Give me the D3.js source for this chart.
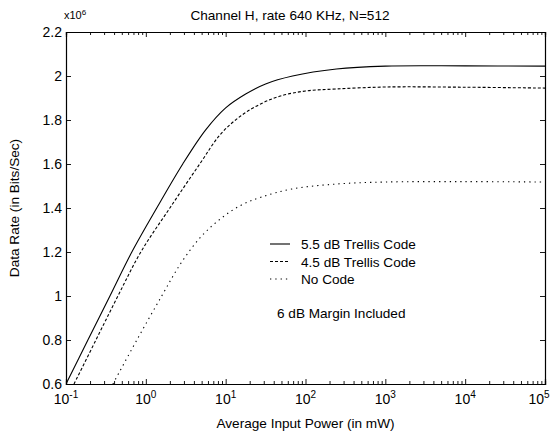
<!DOCTYPE html>
<html>
<head>
<meta charset="utf-8">
<script src="https://cdn.jsdelivr.net/npm/d3@7"></script>
<style>
  body { margin: 0; background: #fff; }
  svg { font-family: "Liberation Sans", Arial, Helvetica, sans-serif; }
</style>
</head>
<body>
<script>
// data (power in mW, rate in units of 10^6 bits/sec)
const trellis55Power = [0.1, 0.188, 0.355, 0.668, 1.37, 2.9, 5.62, 10, 17.8, 31.6, 68.8, 244, 1000, 10000, 100000];
const trellis55Rate  = [0.6, 0.8, 1.0, 1.2, 1.4, 1.6, 1.755, 1.855, 1.918, 1.964, 2.0, 2.032, 2.045, 2.046, 2.045];

const trellis45Power = [0.126, 0.237, 0.447, 0.866, 2.0, 4.73, 8.66, 15.4, 27.4, 48.7, 100, 244, 1000, 10000, 100000];
const trellis45Rate  = [0.6, 0.8, 1.0, 1.2, 1.4, 1.6, 1.736, 1.818, 1.873, 1.909, 1.932, 1.941, 1.95, 1.949, 1.945];

const noCodePower = [0.387, 0.772, 1.58, 2.82, 5.01, 8.91, 15.8, 28.2, 66.8, 244, 1000, 10000, 100000];
const noCodeRate  = [0.6, 0.8, 1.0, 1.155, 1.273, 1.355, 1.414, 1.45, 1.486, 1.509, 1.518, 1.52, 1.518];

const seriesNames = ["5.5 dB Trellis Code", "4.5 dB Trellis Code", "No Code"];
const yTicks = [0.6, 0.8, 1, 1.2, 1.4, 1.6, 1.8, 2, 2.2];
const xExponents = [-1, 0, 1, 2, 3, 4, 5];

const margins = { left: 66, right: 5, top: 32, bottom: 52 };
const width = 550, height = 436;
const plotW = width - margins.left - margins.right;
const plotH = height - margins.top - margins.bottom;

const x = d3.scaleLog().domain([0.1, 1e5]).range([0, plotW]);
const y = d3.scaleLinear().domain([0.6, 2.2]).range([plotH, 0]);

const svg = d3.select("body").append("svg")
    .attr("width", width)
    .attr("height", height);

const g = svg.append("g")
    .attr("transform", "translate(" + margins.left + "," + margins.top + ")");

// clip so curves stay in the box
svg.append("defs").append("clipPath").attr("id", "clip")
    .append("rect").attr("width", plotW).attr("height", plotH);

// ticks: majors at decades, minors at 2..9
const minorTicks = [];
xExponents.slice(0, -1).forEach(e => {
    for (let k = 2; k <= 9; k++) minorTicks.push(k * Math.pow(10, e));
});
const majorTicks = xExponents.map(e => Math.pow(10, e));

function xAxisGen(axisFn, size, vals) {
    return axisFn(x).tickValues(vals).tickSize(size).tickFormat("");
}

// bottom axis (inward ticks)
g.append("g").attr("class", "ax").attr("transform", "translate(0," + plotH + ")")
    .call(xAxisGen(d3.axisTop, 5, majorTicks));
g.append("g").attr("class", "ax").attr("transform", "translate(0," + plotH + ")")
    .call(xAxisGen(d3.axisTop, 3, minorTicks));
// top axis
g.append("g").attr("class", "ax")
    .call(xAxisGen(d3.axisBottom, 5, majorTicks));
g.append("g").attr("class", "ax")
    .call(xAxisGen(d3.axisBottom, 3, minorTicks));

// left axis
g.append("g").attr("class", "ax")
    .call(d3.axisRight(y).tickValues(yTicks).tickSize(5).tickFormat(""));
// right axis
g.append("g").attr("class", "ax").attr("transform", "translate(" + plotW + ",0)")
    .call(d3.axisLeft(y).tickValues(yTicks).tickSize(5).tickFormat(""));

g.selectAll(".ax path").attr("stroke", "#000").attr("stroke-width", 1.2);
g.selectAll(".ax line").attr("stroke", "#000").attr("stroke-width", 0.9);

// y tick labels
g.selectAll(".ylab").data(yTicks).enter().append("text")
    .attr("x", -4)
    .attr("y", d => y(d) + 5)
    .attr("text-anchor", "end")
    .style("font-size", "14px")
    .text(d => d3.format("")(+d.toFixed(1)));

// x tick labels 10^e (last one pulled in so it fits the page)
const xl = g.selectAll(".xlab").data(xExponents).enter().append("text")
    .attr("x", (d, i) => x(Math.pow(10, d)) - (i === xExponents.length - 1 ? 6 : 0))
    .attr("y", plotH + 20)
    .attr("text-anchor", "middle")
    .style("font-size", "14px");
xl.append("tspan").text("10");
xl.append("tspan").attr("dy", -6).style("font-size", "10px").text(d => d);

// multiplier
const mult = svg.append("text").attr("x", 64).attr("y", 19).style("font-size", "11px");
mult.append("tspan").text("x10");
mult.append("tspan").attr("dy", -4).style("font-size", "8px").text("6");

// title and axis labels
svg.append("text").attr("x", 290).attr("y", 20).attr("text-anchor", "middle")
    .style("font-size", "13.6px").text("Channel H, rate 640 KHz, N=512");
svg.append("text").attr("x", margins.left + plotW / 2).attr("y", 428).attr("text-anchor", "middle")
    .style("font-size", "13.6px").text("Average Input Power (in mW)");
svg.append("text").attr("transform", "translate(19," + (margins.top + plotH / 2) + ") rotate(-90)")
    .attr("text-anchor", "middle")
    .style("font-size", "13.6px").text("Data Rate (in Bits/Sec)");

// curves
const line = d3.line()
    .x(d => x(d[0]))
    .y(d => y(d[1]))
    .curve(d3.curveCatmullRom.alpha(0.5));

const series = [
    { pts: d3.zip(trellis55Power, trellis55Rate), dash: null },
    { pts: d3.zip(trellis45Power, trellis45Rate), dash: "3,2" },
    { pts: d3.zip(noCodePower, noCodeRate), dash: "1.3,4" }
];

const curves = g.append("g").attr("clip-path", "url(#clip)");
series.forEach(s => {
    curves.append("path")
        .attr("d", line(s.pts))
        .attr("fill", "none")
        .attr("stroke", "#000")
        .attr("stroke-width", 1.1)
        .attr("stroke-dasharray", s.dash);
});

// legend
const legend = svg.append("g").attr("transform", "translate(270,244)");
seriesNames.forEach((name, i) => {
    legend.append("line")
        .attr("x1", 0).attr("x2", 20)
        .attr("y1", i * 17.5).attr("y2", i * 17.5)
        .attr("stroke", "#000").attr("stroke-width", 1.1)
        .attr("stroke-dasharray", series[i].dash);
    legend.append("text")
        .attr("x", 31).attr("y", i * 17.5 + 5)
        .style("font-size", "13.6px")
        .text(name);
});

svg.append("text").attr("x", 277).attr("y", 318)
    .style("font-size", "13.6px").text("6 dB Margin Included");
</script>
</body>
</html>
